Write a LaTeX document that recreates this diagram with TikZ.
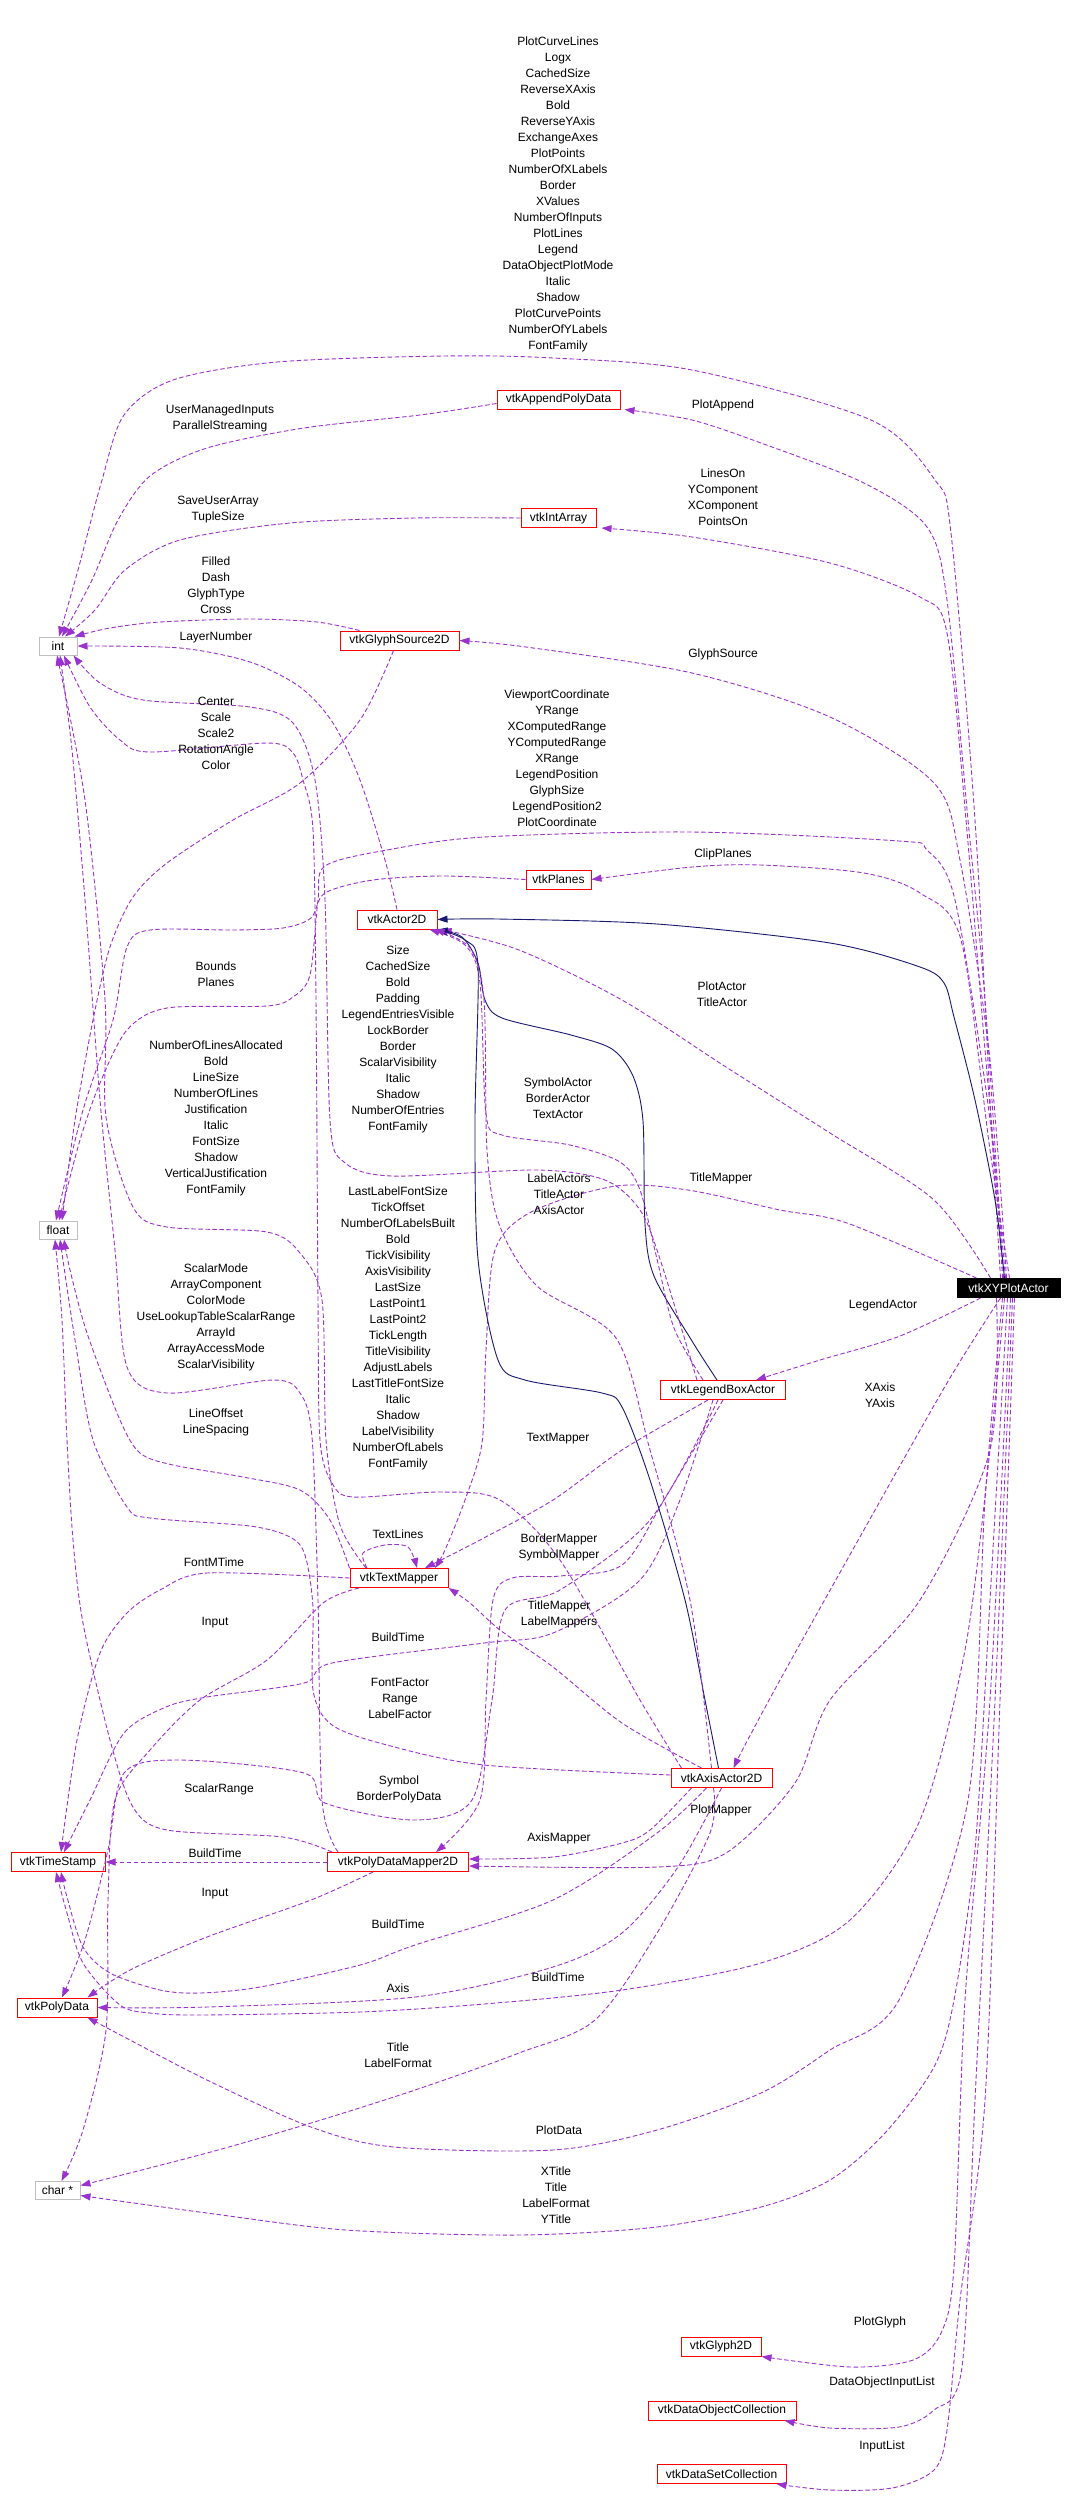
\documentclass[tikz,border=0pt]{standalone}
\usepackage{fontspec}
\setmainfont{Liberation Sans}
\usetikzlibrary{arrows.meta}
\definecolor{purp}{HTML}{9A32CD}
\definecolor{navyb}{HTML}{191970}
\definecolor{primgray}{HTML}{BFBFBF}
\newcommand\labfont{\fontsize{12}{16}\selectfont}
\begin{document}
\begin{tikzpicture}[x=1pt,y=-1pt,
 cls/.style={draw=red, line width=1pt, fill=white, minimum height=19pt, inner xsep=1pt, inner ysep=0pt, font=\labfont, text=black},
 prim/.style={cls, draw=primgray},
 mainc/.style={cls, draw=black, fill=black, text=white},
 lab/.style={align=center, font=\labfont, inner sep=0pt},
 usage/.style={draw=purp, line width=0.9pt, dash pattern=on 4.5pt off 2.5pt, -{Triangle[length=10pt,width=7pt]}},
 inh/.style={draw=navyb, line width=0.9pt, -{Triangle[length=10pt,width=7pt]}},
]
\fill[white] (0,0) rectangle (1072,2504);
\useasboundingbox (0,0) rectangle (1072,2504);

% nodes
\node[cls, minimum width=123pt] (app) at (558.5,399.5) {vtkAppendPolyData};
\node[cls, minimum width=75pt] (intarr) at (558.5,518) {vtkIntArray};
\node[prim, minimum width=38pt, minimum height=18pt] (int) at (58,646) {int};
\node[cls, minimum width=119pt] (gsrc) at (399.5,640.5) {vtkGlyphSource2D};
\node[cls, minimum width=65pt] (planes) at (558.5,879.5) {vtkPlanes};
\node[cls, minimum width=80pt] (actor) at (397,919.5) {vtkActor2D};
\node[prim, minimum width=38pt, minimum height=18pt] (float) at (58,1230) {float};
\node[mainc, minimum width=103pt] (xy) at (1008.5,1288) {vtkXYPlotActor};
\node[cls, minimum width=125pt] (legend) at (723,1390) {vtkLegendBoxActor};
\node[cls, minimum width=98pt] (tm) at (399,1578) {vtkTextMapper};
\node[cls, minimum width=101pt] (axis) at (721.5,1778) {vtkAxisActor2D};
\node[cls, minimum width=94pt] (ts) at (58,1862) {vtkTimeStamp};
\node[cls, minimum width=141pt] (pdm) at (398,1862) {vtkPolyDataMapper2D};
\node[cls, minimum width=80pt] (pd) at (57,2007.5) {vtkPolyData};
\node[prim, minimum width=45pt, minimum height=18pt] (char) at (57.5,2190.5) {char *};
\node[cls, minimum width=80pt] (glyph) at (721,2346.5) {vtkGlyph2D};
\node[cls, minimum width=148pt] (doc) at (722,2410.5) {vtkDataObjectCollection};
\node[cls, minimum width=129pt] (dsc) at (721.5,2474) {vtkDataSetCollection};

% edges from vtkXYPlotActor
\draw[usage] plot[smooth] coordinates {([xshift=-8pt]xy.north) (990,1100) (975,820) (951,533) (935,480) (871,420) (692,370) (553,358) (443,356) (277,362) (173,380) (124,415) (102,480) (78,570) ([xshift=1pt]int.north)};
\draw[usage] plot[smooth] coordinates {([xshift=-5pt]xy.north) (985,1000) (968,820) (947,600) (927,527) (864,483) (761,443) (692,420) ([xshift=4pt]app.south east)};
\draw[usage] plot[smooth] coordinates {([xshift=-3pt]xy.north) (985,1050) (966,820) (947,633) (920,597) (830,563) (692,537) ([xshift=5pt]intarr.south east)};
\draw[usage] plot[smooth] coordinates {([xshift=-2pt]xy.north) (990,1060) (960,860) (934,783) (830,717) (692,673) (526,647) (gsrc.east)};
\draw[usage] plot[smooth] coordinates {([xshift=-6pt]xy.north) (990,1120) (955,900) (927,850) (899,841) (692,832) (484,837) (387,850) (325,866) (318,900) (310,975) (293,997) (267,1006) (167,1008) (127,1030) (100,1083) (80,1140) ([xshift=1pt]float.north)};
\draw[usage] plot[smooth] coordinates {([xshift=1pt]xy.north) (990,1150) (961,940) (920,893) (864,873) (761,865) (692,867) (planes.east)};
\draw[inh] plot[smooth] coordinates {([xshift=-4pt]xy.north) (995,1200) (975,1100) (954,1017) (944,983) (920,967) (830,943) (657,924) (498,919) (actor.east)};
\draw[usage] plot[smooth] coordinates {([xshift=-18pt]xy.north) (934,1200) (830,1133) (726,1067) (622,1000) (519,950) ([xshift=4pt]actor.south east)};
\draw[usage] plot[smooth] coordinates {([xshift=-32pt]xy.north) (847,1223) (780,1210) (688,1190) (616,1186) (533,1211) (495,1250) (486,1350) (482,1443) (465,1500) (445,1550) ([xshift=36pt]tm.north)};
\draw[usage] plot[smooth] coordinates {([xshift=-28pt]xy.south) (900,1336) (820,1360) ([xshift=-30pt]legend.north east)};
\draw[usage] plot[smooth] coordinates {([xshift=-8pt]xy.south) (947,1383) (847,1560) (780,1680) (745,1745) ([xshift=12pt]axis.north)};
\draw[usage] plot[smooth] coordinates {([xshift=-12pt]xy.south) (990,1450) (920,1600) (830,1700) (795,1783) (726,1853) (657,1867) ([yshift=-4pt]pdm.east)};
\draw[usage] plot[smooth] coordinates {([xshift=-4pt]xy.south) (990,1450) (965,1650) (920,1820) (850,1920) (761,1963) (622,1990) (484,2004) (360,2012) (200,2015) (150,2013) (120,2005) (83,1963) (67,1913) ([xshift=-2pt]ts.south)};
\draw[usage] plot[smooth] coordinates {([xshift=-6pt]xy.south) (985,1500) (968,1800) (899,2000) (830,2050) (761,2093) (657,2130) (553,2150) (394,2147) (311,2127) (207,2080) (130,2040) ([xshift=-10pt]pd.south east)};
\draw[usage] plot[smooth] coordinates {([xshift=-1pt]xy.south) (990,1600) (975,1850) (954,2000) (934,2067) (885,2133) (830,2180) (761,2207) (657,2227) (519,2235) (346,2230) (207,2213) ([yshift=-5pt]char.east)};
\draw[usage] plot[smooth] coordinates {([xshift=2pt]xy.south) (990,1700) (965,2000) (954,2267) (941,2333) (913,2360) (851,2367) (glyph.south east)};
\draw[usage] plot[smooth] coordinates {([xshift=4pt]xy.south) (995,1700) (975,2100) (962,2367) (934,2410) (899,2427) (830,2428) ([xshift=-12pt]doc.south east)};
\draw[usage] plot[smooth] coordinates {([xshift=6pt]xy.south) (1000,1700) (985,2100) (960,2300) (947,2430) (934,2470) (892,2488) (830,2490) ([xshift=-10pt]dsc.south east)};

% edges into int / float from upper classes
\draw[usage] plot[smooth] coordinates {([yshift=-4pt]app.west) (420,415) (304,428) (207,448) (150,476) (118,520) (92,580) ([xshift=4pt]int.north)};
\draw[usage] plot[smooth] coordinates {(intarr.west) (415,518) (290,523) (180,540) (125,570) (95,610) ([xshift=7pt]int.north)};
\draw[usage] plot[smooth] coordinates {([xshift=-40pt]gsrc.north) (317,622) (250,619) (160,622) (110,628) ([xshift=-3pt]int.north east)};
\draw[usage] plot[smooth] coordinates {(actor.north) (385,860) (360,780) (333,723) (300,687) (250,662) (180,648) (int.east)};
\draw[usage] plot[smooth] coordinates {([xshift=-6pt]gsrc.south) (360,720) (300,783) (233,820) (167,863) (133,897) (110,947) (93,1020) (75,1120) ([xshift=4pt]float.north)};
\draw[usage] plot[smooth] coordinates {(planes.west) (443,876) (373,880) (325,893) (311,918) (283,928) (233,930) (150,930) (127,947) (113,1020) (83,1110) ([xshift=-2pt]float.north)};

% vtkLegendBoxActor
\draw[inh] plot[smooth] coordinates {([xshift=-6pt]legend.north) (692,1341) (654,1276) (645,1224) (643,1121) (633,1076) (612,1049) (571,1035) (502,1018) (485,1000) (478,963) (462,937) (actor.south east)};
\draw[usage] plot[smooth] coordinates {([xshift=-20pt]legend.north) (674,1328) (657,1259) (640,1190) (620,1162) (570,1145) (502,1135) (486,1114) (480,983) (465,945) ([xshift=-8pt]actor.south east)};
\draw[usage] plot[smooth] coordinates {([xshift=-26pt]legend.north) (660,1259) (640,1210) (605,1180) (537,1170) (392,1176) (344,1162) (330,1120) (325,900) (315,780) (293,723) (250,707) (143,700) (100,683) ([xshift=-4pt]int.south east)};
\draw[usage] plot[smooth] coordinates {([xshift=-15pt]legend.south) (622,1450) (553,1500) (480,1540) ([xshift=26pt]tm.north)};
\draw[usage] plot[smooth] coordinates {(legend.south) (664,1500) (622,1565) (560,1576) (512,1578) (493,1600) (486,1700) (480,1800) ([xshift=38pt]pdm.north)};
\draw[usage] plot[smooth] coordinates {([xshift=-10pt]legend.south) (680,1500) (640,1580) (553,1633) (484,1643) (332,1663) (304,1683) (207,1697) (166,1707) (124,1733) (90,1800) ([xshift=6pt]ts.north)};
\draw[usage] plot[smooth] coordinates {([xshift=-5pt]legend.south) (650,1520) (560,1590) (505,1610) (492,1700) (472,1800) (415,1820) (325,1803) (304,1773) (180,1760) (124,1773) (108,1850) (85,1940) ([xshift=5pt]pd.north)};

% vtkTextMapper
\draw[usage] plot[smooth] coordinates {([xshift=-33pt]tm.north) (340,1525) (326,1440) (322,1300) (300,1253) (267,1232) (167,1227) (133,1207) (106,1117) (105,1000) (85,800) ([xshift=-1pt]int.south)};
\draw[usage] plot[smooth] coordinates {([xshift=-32pt]tm.north) (363,1553) (385,1545) (408,1547) ([xshift=18pt]tm.north)};
\draw[usage] plot[smooth] coordinates {(tm.north west) (330,1520) (300,1490) (243,1477) (173,1465) (140,1453) (120,1420) (87,1333) (70,1270) ([xshift=6pt]float.south)};
\draw[usage] plot[smooth] coordinates {(tm.west) (207,1573) (160,1590) (127,1613) (100,1653) (77,1740) ([xshift=3pt]ts.north)};
\draw[usage] plot[smooth] coordinates {([xshift=-40pt]tm.south) (323,1603) (267,1660) (200,1700) (150,1750) (115,1800) (108,1900) (106,2030) (83,2130) ([xshift=4pt]char.north)};

% vtkAxisActor2D
\draw[inh] plot[smooth] coordinates {([xshift=-3pt]axis.north) (705,1700) (685,1600) (650,1480) (622,1407) (602,1393) (525,1380) (498,1360) (478,1259) (475,1121) (478,966) (465,940) (actor.south east)};
\draw[usage] plot[smooth] coordinates {([xshift=-10pt]axis.north) (690,1600) (650,1450) (616,1338) (537,1286) (499,1224) (487,1150) (484,1000) (470,948) ([xshift=-3pt]actor.south east)};
\draw[usage] plot[smooth] coordinates {([xshift=-40pt]axis.north) (640,1700) (560,1560) (500,1500) (440,1492) (353,1497) (332,1483) (320,1440) (318,1300) (316,1000) (313,830) (303,780) (293,753) (267,743) (150,752) (120,740) (90,707) ([xshift=6pt]int.south)};
\draw[usage] plot[smooth] coordinates {([xshift=-20pt]axis.north) (622,1723) (553,1667) (500,1630) (470,1603) (tm.south east)};
\draw[usage] plot[smooth] coordinates {([xshift=-15pt]axis.south) (657,1833) (553,1900) (415,1945) (360,1965) (260,1987) (200,1993) (160,1990) (110,1973) (83,1947) (67,1897) ([xshift=3pt]ts.south)};
\draw[usage] plot[smooth] coordinates {(axis.south) (678,1867) (622,1933) (553,1967) (415,1997) (207,2007) (pd.east)};
\draw[usage] plot[smooth] coordinates {([xshift=-8pt]axis.south) (710,1833) (657,1933) (595,2020) (519,2053) (415,2090) (311,2123) (207,2153) ([yshift=5pt]char.east)};
\draw[usage] plot[smooth] coordinates {([xshift=-30pt]axis.south) (650,1830) (622,1843) (553,1857) ([yshift=3pt]pdm.east)};
\draw[usage] plot[smooth] coordinates {([yshift=3pt]axis.west) (484,1765) (387,1745) (332,1725) (313,1690) (313,1607) (305,1555) (290,1537) (250,1526) (150,1518) (127,1507) (93,1440) (75,1340) ([xshift=2pt]float.south)};

% vtkPolyDataMapper2D
\draw[usage] plot[smooth] coordinates {([xshift=-60pt]pdm.north) (322,1800) (318,1600) (312,1437) (300,1393) (273,1380) (167,1393) (127,1367) (115,1250) (100,1100) (85,900) (72,750) ([xshift=2pt]int.south)};
\draw[usage] (pdm.west) -- (ts.east);
\draw[usage] plot[smooth] coordinates {([xshift=-25pt]pdm.south) (311,1900) (207,1937) (130,1970) ([xshift=-10pt]pd.north east)};
\draw[usage] plot[smooth] coordinates {([xshift=-66pt]pdm.north) (283,1837) (167,1830) (133,1807) (110,1740) (83,1623) (73,1540) (67,1440) (62,1320) ([xshift=-3pt]float.south)};

% labels
\node[lab] (l1) at (558,194) {PlotCurveLines\\Logx\\CachedSize\\ReverseXAxis\\Bold\\ReverseYAxis\\ExchangeAxes\\PlotPoints\\NumberOfXLabels\\Border\\XValues\\NumberOfInputs\\PlotLines\\Legend\\DataObjectPlotMode\\Italic\\Shadow\\PlotCurvePoints\\NumberOfYLabels\\FontFamily};
\node[lab] (l2) at (220,418) {UserManagedInputs\\ParallelStreaming};
\node[lab] (l3) at (723,405) {PlotAppend};
\node[lab] (l4) at (218,510) {SaveUserArray\\TupleSize};
\node[lab] (l5) at (723,497) {LinesOn\\YComponent\\XComponent\\PointsOn};
\node[lab] (l6) at (216,585) {Filled\\Dash\\GlyphType\\Cross};
\node[lab] (l7) at (216,637) {LayerNumber};
\node[lab] (l8) at (723,654) {GlyphSource};
\node[lab] (l9) at (216,733) {Center\\Scale\\Scale2\\RotationAngle\\Color};
\node[lab] (l10) at (557,758) {ViewportCoordinate\\YRange\\XComputedRange\\YComputedRange\\XRange\\LegendPosition\\GlyphSize\\LegendPosition2\\PlotCoordinate};
\node[lab] (l11) at (723,854) {ClipPlanes};
\node[lab] (l12) at (216,974) {Bounds\\Planes};
\node[lab] (l13) at (398,1039) {Size\\CachedSize\\Bold\\Padding\\LegendEntriesVisible\\LockBorder\\Border\\ScalarVisibility\\Italic\\Shadow\\NumberOfEntries\\FontFamily};
\node[lab] (l14) at (722,994) {PlotActor\\TitleActor};
\node[lab] (l15) at (216,1118) {NumberOfLinesAllocated\\Bold\\LineSize\\NumberOfLines\\Justification\\Italic\\FontSize\\Shadow\\VerticalJustification\\FontFamily};
\node[lab] (l16) at (558,1098) {SymbolActor\\BorderActor\\TextActor};
\node[lab] (l17) at (559,1194) {LabelActors\\TitleActor\\AxisActor};
\node[lab] (l18) at (721,1178) {TitleMapper};
\node[lab] (l19) at (398,1328) {LastLabelFontSize\\TickOffset\\NumberOfLabelsBuilt\\Bold\\TickVisibility\\AxisVisibility\\LastSize\\LastPoint1\\LastPoint2\\TickLength\\TitleVisibility\\AdjustLabels\\LastTitleFontSize\\Italic\\Shadow\\LabelVisibility\\NumberOfLabels\\FontFamily};
\node[lab] (l20) at (883,1305) {LegendActor};
\node[lab] (l21) at (216,1317) {ScalarMode\\ArrayComponent\\ColorMode\\UseLookupTableScalarRange\\ArrayId\\ArrayAccessMode\\ScalarVisibility};
\node[lab] (l22) at (880,1395) {XAxis\\YAxis};
\node[lab] (l23) at (216,1422) {LineOffset\\LineSpacing};
\node[lab] (l24) at (558,1439) {TextMapper};
\node[lab] (l25) at (398,1534) {TextLines};
\node[lab] (l26) at (559,1547) {BorderMapper\\SymbolMapper};
\node[lab] (l27) at (214,1562) {FontMTime};
\node[lab] (l28) at (559,1614) {TitleMapper\\LabelMappers};
\node[lab] (l29) at (215,1623) {Input};
\node[lab] (l30) at (398,1637) {BuildTime};
\node[lab] (l31) at (400,1698) {FontFactor\\Range\\LabelFactor};
\node[lab] (l32) at (399,1789) {Symbol\\BorderPolyData};
\node[lab] (l33) at (219,1789) {ScalarRange};
\node[lab] (l34) at (721,1810) {PlotMapper};
\node[lab] (l35) at (559,1838) {AxisMapper};
\node[lab] (l36) at (215,1853) {BuildTime};
\node[lab] (l37) at (215,1894) {Input};
\node[lab] (l38) at (398,1924) {BuildTime};
\node[lab] (l39) at (558,1977) {BuildTime};
\node[lab] (l40) at (398,1988) {Axis};
\node[lab] (l41) at (398,2055) {Title\\LabelFormat};
\node[lab] (l42) at (559,2130) {PlotData};
\node[lab] (l43) at (556,2195) {XTitle\\Title\\LabelFormat\\YTitle};
\node[lab] (l44) at (880,2322) {PlotGlyph};
\node[lab] (l45) at (882,2382) {DataObjectInputList};
\node[lab] (l46) at (882,2446) {InputList};
\end{tikzpicture}
\end{document}
